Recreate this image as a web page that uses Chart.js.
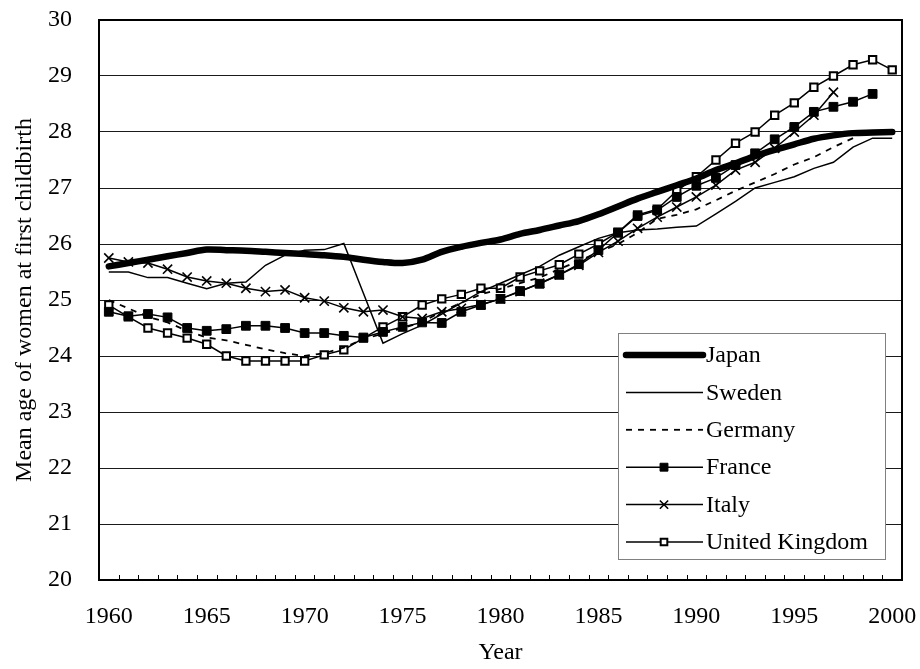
<!DOCTYPE html>
<html>
<head>
<meta charset="utf-8">
<script src="https://cdn.jsdelivr.net/npm/chart.js@4.4.0/dist/chart.umd.min.js"></script>
<style>
  html, body { margin: 0; padding: 0; background: #fff; }
  #wrap { width: 920px; height: 669px; }
</style>
</head>
<body>
<div id="wrap"><canvas id="ageChart" width="920" height="669"></canvas></div>
<script>
const years = [];
for (let y = 1960; y <= 2000; y++) years.push(String(y));

const japan = [25.6, 25.66, 25.72, 25.78, 25.84, 25.9, 25.89, 25.88, 25.86, 25.84,
    25.82, 25.8, 25.77, 25.72, 25.68, 25.66, 25.72, 25.86, 25.95, 26.02,
    26.08, 26.18, 26.25, 26.33, 26.41, 26.53, 26.67, 26.81, 26.93, 27.05,
    27.17, 27.32, 27.44, 27.57, 27.68, 27.78, 27.88, 27.94, 27.98, 27.99, 28.0];
const sweden = [25.5, 25.5, 25.4, 25.4, 25.3, 25.2, 25.3, 25.32, 25.62, 25.8,
    25.89, 25.9, 26.01, 25.12, 24.23, 24.4, 24.55, 24.75, 24.95, 25.15,
    25.3, 25.45, 25.6, 25.8, 25.95, 26.1, 26.2, 26.25, 26.27, 26.3,
    26.32, 26.54, 26.76, 27.0, 27.1, 27.2, 27.35, 27.46, 27.73, 27.89, 27.89];
const germany = [25.0, 24.85, 24.7, 24.6, 24.45, 24.33, 24.28, 24.2, 24.12, 24.05,
    24.0, 24.05, 24.15, 24.3, 24.4, 24.5, 24.6, 24.8, 24.95, 25.1,
    25.2, 25.3, 25.4, 25.55, 25.7, 25.85, 26.0, 26.2, 26.45, 26.52,
    26.62, 26.78, 26.95, 27.1, 27.25, 27.42, 27.55, 27.73, 27.89, null, null];
const france = [24.79, 24.71, 24.75, 24.69, 24.5, 24.45, 24.48, 24.54, 24.54, 24.5,
    24.41, 24.41, 24.36, 24.33, 24.43, 24.52, 24.6, 24.59, 24.79, 24.91,
    25.02, 25.16, 25.29, 25.45, 25.64, 25.89, 26.2, 26.5, 26.6, 26.84,
    27.04, 27.18, 27.41, 27.62, 27.87, 28.09, 28.36, 28.45, 28.54, 28.68, null];
const italy = [25.75, 25.68, 25.66, 25.55, 25.41, 25.34, 25.3, 25.21, 25.15, 25.18,
    25.04, 24.98, 24.86, 24.79, 24.82, 24.7, 24.67, 24.79, 24.85, 24.92,
    25.02, 25.15, 25.3, 25.45, 25.62, 25.85, 26.05, 26.28, 26.48, 26.66,
    26.84, 27.05, 27.32, 27.46, 27.71, 28.0, 28.3, 28.71, null, null, null];
const uk = [24.91, 24.7, 24.5, 24.41, 24.32, 24.21, 24.0, 23.91, 23.91, 23.91,
    23.91, 24.02, 24.11, 24.32, 24.52, 24.7, 24.91, 25.02, 25.1, 25.21,
    25.21, 25.41, 25.52, 25.63, 25.82, 26.0, 26.21, 26.52, 26.62, 26.95,
    27.2, 27.5, 27.8, 28.0, 28.3, 28.52, 28.8, 29.0, 29.2, 29.29, 29.11];

const FONT = 'Liberation Serif, Times New Roman, serif';

// plain line for every series, markers only where the original has them
const series = (label, data, extra) => Object.assign({
    label,
    data,
    borderColor: '#000',
    backgroundColor: '#000',
    borderWidth: 1.5,
    pointRadius: 0,
    pointHoverRadius: 0,
    tension: 0,
    spanGaps: false
}, extra);

const datasets = [
    series('Japan', japan, { borderWidth: 6.5, borderCapStyle: 'round', borderJoinStyle: 'round', tension: 0.3 }),
    series('Sweden', sweden, {}),
    series('Germany', germany, { borderDash: [6, 6], borderWidth: 1.8 }),
    series('France', france, { pointStyle: 'rect', pointRadius: 6.2, pointBorderWidth: 1 }),
    series('Italy', italy, { pointStyle: 'crossRot', pointRadius: 6.5, pointBorderWidth: 1.6 }),
    series('United Kingdom', uk, { pointStyle: 'rect', pointRadius: 5.2, pointBorderWidth: 2, pointBackgroundColor: '#fff' })
];

// top/right frame plus the small inward ticks on the year axis
const frame = {
    id: 'frame',
    afterDatasetsDraw(chart) {
        const { ctx, chartArea: a } = chart;
        const xs = chart.scales.x;
        ctx.save();
        ctx.strokeStyle = '#000';
        ctx.lineWidth = 2;
        ctx.strokeRect(a.left, a.top, a.right - a.left, a.bottom - a.top);
        ctx.lineWidth = 1;
        const step = xs.getPixelForValue(1) - xs.getPixelForValue(0);
        for (let i = 1; i < years.length; i++) {
            const x = Math.round(xs.getPixelForValue(i) - step / 2) + 0.5;
            ctx.beginPath();
            ctx.moveTo(x, a.bottom);
            ctx.lineTo(x, a.bottom - 5);
            ctx.stroke();
        }
        ctx.restore();
    }
};

// boxed legend sitting inside the plot, bottom right
const boxLegend = {
    id: 'boxLegend',
    afterDraw(chart) {
        const { ctx } = chart;
        const box = { x: 618, y: 333, w: 267, h: 226 };
        ctx.save();
        ctx.fillStyle = '#fff';
        ctx.fillRect(box.x, box.y, box.w, box.h);
        ctx.strokeStyle = '#808080';
        ctx.lineWidth = 1;
        ctx.strokeRect(box.x + 0.5, box.y + 0.5, box.w, box.h);
        chart.data.datasets.forEach((ds, i) => {
            const y = 355 + i * 37.4;
            ctx.strokeStyle = '#000';
            ctx.lineWidth = ds.borderWidth;
            ctx.lineCap = ds.borderCapStyle || 'butt';
            ctx.setLineDash(ds.borderDash || []);
            ctx.beginPath();
            ctx.moveTo(626, y);
            ctx.lineTo(703, y);
            ctx.stroke();
            ctx.setLineDash([]);
            if (ds.pointRadius > 0) {
                ctx.fillStyle = ds.pointBackgroundColor || '#000';
                ctx.strokeStyle = '#000';
                ctx.lineWidth = ds.pointBorderWidth;
                Chart.helpers.drawPoint(ctx, {
                    pointStyle: ds.pointStyle,
                    radius: ds.pointRadius * 0.9,
                    borderWidth: ds.pointBorderWidth,
                    rotation: 0
                }, 664, y);
            }
            ctx.fillStyle = '#000';
            ctx.font = '24px ' + FONT;
            ctx.textAlign = 'left';
            ctx.textBaseline = 'middle';
            ctx.fillText(ds.label, 706, y + 1);
        });
        ctx.restore();
    }
};

const ctx = document.getElementById('ageChart').getContext('2d');
new Chart(ctx, {
    type: 'line',
    data: { labels: years, datasets },
    options: {
        responsive: false,
        animation: false,
        events: [],
        layout: { padding: { top: 20, right: 18, left: 0, bottom: 0 } },
        plugins: {
            legend: { display: false },
            tooltip: { enabled: false }
        },
        scales: {
            x: {
                type: 'category',
                offset: true,
                afterFit: s => {
                    s.height = 89;
                    s.paddingLeft = 0;
                    s.paddingRight = 0;
                },
                grid: { display: true, drawOnChartArea: false, drawTicks: false, offset: true },
                border: { display: true, color: '#000', width: 2 },
                ticks: {
                    autoSkip: false,
                    maxRotation: 0,
                    padding: 22,
                    color: '#000',
                    font: { family: FONT, size: 24 },
                    callback: (v, i) => (i % 5 === 0 ? years[i] : '')
                },
                title: {
                    display: true,
                    text: 'Year',
                    color: '#000',
                    font: { family: FONT, size: 24 },
                    padding: { top: 0, bottom: 2 }
                }
            },
            y: {
                min: 20,
                max: 30,
                afterFit: s => {
                    s.width = 99;
                    s.paddingTop = 0;
                    s.paddingBottom = 0;
                },
                grid: { color: '#1a1a1a', lineWidth: 1, drawTicks: false },
                border: { display: true, color: '#000', width: 2 },
                ticks: {
                    stepSize: 1,
                    padding: 27,
                    color: '#000',
                    font: { family: FONT, size: 24 }
                },
                title: {
                    display: true,
                    text: 'Mean age of women at first childbirth',
                    color: '#000',
                    font: { family: FONT, size: 24 },
                    padding: { top: 10, bottom: 0 }
                }
            }
        }
    },
    plugins: [frame, boxLegend]
});
</script>
</body>
</html>
